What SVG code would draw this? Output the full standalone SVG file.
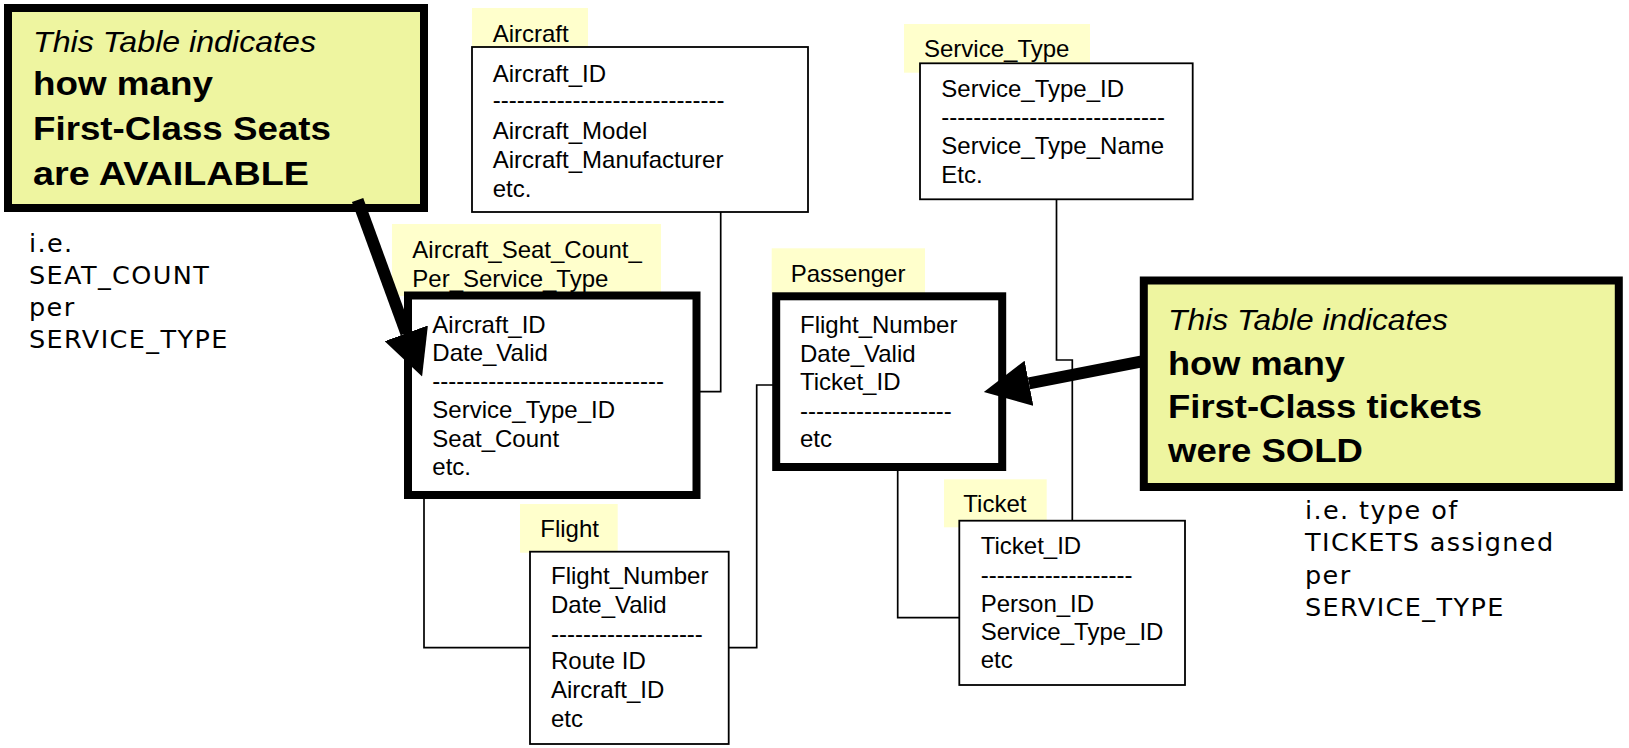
<svg xmlns="http://www.w3.org/2000/svg" width="1629" height="748" viewBox="0 0 1629 748">
<defs>
<style>
.bg{fill:#ffffff}
.hl{fill:#ffffcc}
.box{fill:#ffffff;stroke:#000;stroke-width:1.8}
.tbox{fill:#ffffff;stroke:#000;stroke-width:8}
.callout{fill:#eef5a0;stroke:#000;stroke-width:8}
.t{font-family:"Liberation Sans",Arial,sans-serif;font-size:24px;fill:#000}
.ci{font-family:"Liberation Sans",Arial,sans-serif;font-size:29px;font-style:italic;fill:#000}
.cb{font-family:"Liberation Sans",Arial,sans-serif;font-size:33px;font-weight:bold;fill:#000}
.note{font-family:"DejaVu Sans","Liberation Sans",sans-serif;font-size:25.5px;letter-spacing:1.4px;fill:#000}
.conn{fill:none;stroke:#000;stroke-width:1.7}
.arrow{fill:none;stroke:#000;stroke-width:12;marker-end:url(#head)}
</style>
<marker id="head" markerUnits="userSpaceOnUse" viewBox="0 0 46 46" refX="0" refY="23" markerWidth="46" markerHeight="46" orient="auto">
<path d="M0,0 L46,23 L0,46 Z" fill="#000"/>
</marker>
</defs>
<rect class="bg" x="0" y="0" width="1629" height="748"/>

<g id="connectors">
<polyline class="conn" points="720.7,212 720.7,391.7 700,391.7"/>
<polyline class="conn" points="785,385 756.7,385 756.7,647.7 728.7,647.7"/>
<polyline class="conn" points="424,491 424,647.7 530,647.7"/>
<polyline class="conn" points="897.7,470.7 897.7,617.7 959.3,617.7"/>
<polyline class="conn" points="1056.5,199.3 1056.5,360 1072.3,360 1072.3,520.7"/>
</g>

<g id="aircraft">
<rect class="hl" x="472" y="8" width="116" height="40"/>
<rect class="box" x="472" y="47" width="336" height="165"/>
<text class="t" x="492.7" y="42">Aircraft</text>
<text class="t" x="492.7" y="82">Aircraft_ID</text>
<text class="t" x="492.7" y="108">-----------------------------</text>
<text class="t" x="492.7" y="139.3">Aircraft_Model</text>
<text class="t" x="492.7" y="168.3">Aircraft_Manufacturer</text>
<text class="t" x="492.7" y="196.7">etc.</text>
</g>

<g id="service_type">
<rect class="hl" x="904" y="24" width="186" height="48.7"/>
<rect class="box" x="920" y="63.3" width="272.7" height="136"/>
<text class="t" x="924" y="57.3">Service_Type</text>
<text class="t" x="941.3" y="97.3">Service_Type_ID</text>
<text class="t" x="941.3" y="125">----------------------------</text>
<text class="t" x="941.3" y="154.3">Service_Type_Name</text>
<text class="t" x="941.3" y="183.3">Etc.</text>
</g>

<g id="aircraft_seat_count">
<rect class="hl" x="392" y="224" width="269" height="72"/>
<rect class="tbox" x="408" y="295.5" width="288.5" height="199.5"/>
<text class="t" x="412.3" y="258.3">Aircraft_Seat_Count_</text>
<text class="t" x="412.3" y="286.7">Per_Service_Type</text>
<text class="t" x="432.3" y="332.7">Aircraft_ID</text>
<text class="t" x="432.3" y="361">Date_Valid</text>
<text class="t" x="432.3" y="389">-----------------------------</text>
<text class="t" x="432.3" y="418.3">Service_Type_ID</text>
<text class="t" x="432.3" y="446.7">Seat_Count</text>
<text class="t" x="432.3" y="475">etc.</text>
</g>

<g id="passenger">
<rect class="hl" x="771.7" y="248.3" width="153.3" height="46"/>
<rect class="tbox" x="776.2" y="296.3" width="226" height="170.7"/>
<text class="t" x="790.7" y="282.3">Passenger</text>
<text class="t" x="800" y="333.3">Flight_Number</text>
<text class="t" x="800" y="361.7">Date_Valid</text>
<text class="t" x="800" y="390">Ticket_ID</text>
<text class="t" x="800" y="419">-------------------</text>
<text class="t" x="800" y="447.3">etc</text>
</g>

<g id="ticket">
<rect class="hl" x="944" y="479.3" width="102.7" height="48"/>
<rect class="box" x="959.3" y="520.7" width="225.7" height="164.3"/>
<text class="t" x="963.3" y="511.7">Ticket</text>
<text class="t" x="980.7" y="554">Ticket_ID</text>
<text class="t" x="980.7" y="582.5">-------------------</text>
<text class="t" x="980.7" y="611.7">Person_ID</text>
<text class="t" x="980.7" y="640">Service_Type_ID</text>
<text class="t" x="980.7" y="668.3">etc</text>
</g>

<g id="flight">
<rect class="hl" x="520" y="504" width="97.7" height="48.7"/>
<rect class="box" x="530" y="551.7" width="198.7" height="192.3"/>
<text class="t" x="540.3" y="537.3">Flight</text>
<text class="t" x="551" y="584.3">Flight_Number</text>
<text class="t" x="551" y="612.7">Date_Valid</text>
<text class="t" x="551" y="641.5">-------------------</text>
<text class="t" x="551" y="669.3">Route ID</text>
<text class="t" x="551" y="697.7">Aircraft_ID</text>
<text class="t" x="551" y="727">etc</text>
</g>

<g id="callout_available">
<rect class="callout" x="8" y="8" width="416" height="200"/>
<text class="ci" x="33" y="52" textLength="283" lengthAdjust="spacingAndGlyphs">This Table indicates</text>
<text class="cb" x="33" y="95" textLength="180" lengthAdjust="spacingAndGlyphs">how many</text>
<text class="cb" x="33" y="140" textLength="298" lengthAdjust="spacingAndGlyphs">First-Class Seats</text>
<text class="cb" x="33" y="185" textLength="276" lengthAdjust="spacingAndGlyphs">are AVAILABLE</text>
</g>

<g id="callout_sold">
<rect class="callout" x="1143.8" y="280.5" width="475" height="206.5"/>
<text class="ci" x="1168" y="330" textLength="280" lengthAdjust="spacingAndGlyphs">This Table indicates</text>
<text class="cb" x="1168" y="375" textLength="177" lengthAdjust="spacingAndGlyphs">how many</text>
<text class="cb" x="1168" y="418.3" textLength="314" lengthAdjust="spacingAndGlyphs">First-Class tickets</text>
<text class="cb" x="1168" y="461.7" textLength="195" lengthAdjust="spacingAndGlyphs">were SOLD</text>
</g>

<g id="note_seat_count">
<text class="note" x="29" y="252">i.e.</text>
<text class="note" x="29" y="284">SEAT_COUNT</text>
<text class="note" x="29" y="316">per</text>
<text class="note" x="29" y="348">SERVICE_TYPE</text>
</g>

<g id="note_tickets">
<text class="note" x="1305" y="519">i.e. type of</text>
<text class="note" x="1305" y="551">TICKETS assigned</text>
<text class="note" x="1305" y="584">per</text>
<text class="note" x="1305" y="616">SERVICE_TYPE</text>
</g>

<g id="arrows">
<line class="arrow" x1="357.6" y1="200" x2="406.3" y2="333.3"/>
<line class="arrow" x1="1142" y1="361.4" x2="1029" y2="383.3"/>
</g>
</svg>
